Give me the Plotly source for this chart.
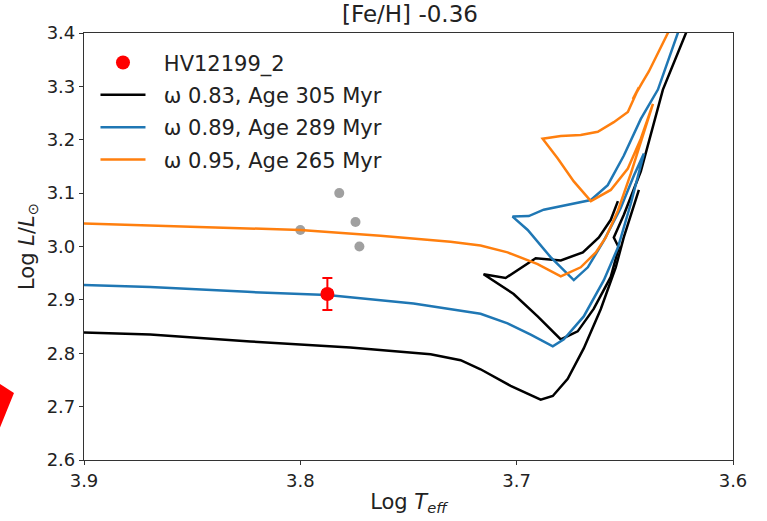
import plotly.graph_objects as go

# ---- data ----
star_name = "HV12199_2"
star_logteff = [3.7875]
star_logl = [2.911]
star_logl_err = [0.03]
star_logteff_err = [0.002]

grey_logteff = [3.800, 3.782, 3.7745, 3.7727]
grey_logl = [3.031, 3.100, 3.046, 3.000]

labels = ["ω 0.83, Age 305 Myr", "ω 0.89, Age 289 Myr", "ω 0.95, Age 265 Myr"]
colors = ["black", "#1f77b4", "#ff7f0e"]

# omega 0.83 (two pieces, None separates)
k_teff = [3.900, 3.8694, 3.8231, 3.7769, 3.7398, 3.7259, 3.7167, 3.7028, 3.6889,
          3.6833, 3.6764, 3.6690, 3.6611, 3.6542, 3.6505, 3.6472, 3.6435,
          None,
          3.6167, 3.6218, 3.6324, 3.6426, 3.6505, 3.6551, 3.6528, 3.6565, 3.6644,
          3.6718, 3.6796, 3.6903, 3.7014, 3.7153, 3.7051, 3.6912, 3.6796, 3.6694,
          3.6620, 3.6565, 3.6532]
k_logl = [2.839, 2.835, 2.822, 2.811, 2.798, 2.787, 2.770, 2.739, 2.713,
          2.720, 2.752, 2.809, 2.883, 2.961, 3.017, 3.059, 3.106,
          None,
          3.450, 3.400, 3.294, 3.141, 3.059, 3.017, 2.998, 2.943, 2.883,
          2.841, 2.826, 2.869, 2.911, 2.948, 2.941, 2.978, 2.974, 2.989,
          3.017, 3.050, 3.085]

# omega 0.89
b_teff = [3.900, 3.8694, 3.8245, 3.7875, 3.7477, 3.7306, 3.7167, 3.7042, 3.6935,
          3.6833, 3.6782, 3.6690, 3.6597, 3.6532, 3.6472, 3.6412,
          3.6458, 3.6519, 3.6597, 3.6671, 3.6736,
          3.6843, 3.6949, 3.7019,
          3.6944, 3.6875, 3.6764, 3.6657, 3.6579, 3.6505, 3.6426, 3.6347, 3.6255, 3.6204]
b_logl = [2.928, 2.924, 2.915, 2.909, 2.893, 2.883, 2.874, 2.856, 2.835,
          2.813, 2.826, 2.869, 2.937, 2.998, 3.081, 3.174,
          3.133, 3.072, 3.011, 2.961, 2.937,
          2.980, 3.031, 3.056,
          3.057, 3.069, 3.078, 3.087, 3.115, 3.170, 3.239, 3.294, 3.400, 3.450]

# omega 0.95
o_teff = [3.900, 3.8463, 3.8000, 3.7630, 3.7306, 3.7167, 3.7042, 3.6903, 3.6796,
          3.6704, 3.6634, 3.6588, 3.6532, 3.6472, 3.6412, 3.6370,
          3.6426, 3.6486, 3.6565, 3.6657,
          3.6736, 3.6810, 3.6880,
          3.6796, 3.6704, 3.6625, 3.6551, 3.6486, 3.6435, 3.6463, 3.6421, 3.6389, 3.6301, 3.6250]
o_logl = [3.043, 3.037, 3.031, 3.020, 3.009, 3.002, 2.989, 2.967, 2.944,
          2.961, 2.989, 3.017, 3.067, 3.137, 3.211, 3.267,
          3.202, 3.146, 3.106, 3.085,
          3.122, 3.165, 3.202,
          3.207, 3.209, 3.215, 3.233, 3.252, 3.298, 3.276, 3.306, 3.328, 3.400, 3.450]

title_text = "[Fe/H] -0.36"
x_ticks = [3.9, 3.8, 3.7, 3.6]
y_ticks = [2.6, 2.7, 2.8, 2.9, 3.0, 3.1, 3.2, 3.3, 3.4]

FONT = "DejaVu Sans"
PAD = "&nbsp;&nbsp;"

fig = go.Figure()

fig.add_trace(go.Scatter(
    x=grey_logteff, y=grey_logl, mode="markers",
    marker=dict(color="#a0a0a0", size=10), showlegend=False, hoverinfo="skip"))

for i, (tx, ty, lab, col) in enumerate(zip([k_teff, b_teff, o_teff], [k_logl, b_logl, o_logl],
                                           labels, colors)):
    fig.add_trace(go.Scatter(
        x=tx, y=ty, mode="lines", name=PAD + lab, legendgroup=f"g{i+1}", legendrank=i + 2,
        line=dict(color=col, width=2.5), connectgaps=False))

fig.add_trace(go.Scatter(
    x=star_logteff, y=star_logl, mode="markers", name=PAD + star_name,
    legendgroup="g0", legendrank=1,
    marker=dict(color="red", size=14),
    error_y=dict(type="data", array=star_logl_err, color="red", thickness=2, width=5),
    error_x=dict(type="data", array=star_logteff_err, color="red", thickness=2, width=5)))

fig.update_layout(
    width=767, height=521,
    margin=dict(l=84, r=34, t=33, b=56),
    paper_bgcolor="white", plot_bgcolor="white",
    font=dict(family=FONT, size=18, color="#222"),
    title=dict(text=title_text, x=0.5345, xanchor="center", y=0.988, yanchor="top",
               font=dict(family=FONT, size=23, color="#222")),
    showlegend=True,
    legend=dict(x=0.0177, y=0.978, xanchor="left", yanchor="top",
                bgcolor="rgba(0,0,0,0)", font=dict(family=FONT, size=21, color="#222"),
                traceorder="grouped", tracegroupgap=2, itemwidth=45),
    shapes=[dict(type="path", xref="paper", yref="paper",
                 path="M -0.1294 0.178 L -0.1079 0.157 L -0.1294 0.076 Z",
                 fillcolor="red", line=dict(width=0))],
)

fig.update_xaxes(
    range=[3.9, 3.6], tickvals=x_ticks, ticktext=[f"{v:.1f}" for v in x_ticks],
    showgrid=False, zeroline=False, showline=True, linecolor="#333", linewidth=1.2,
    mirror=True, ticks="outside", ticklen=4, tickcolor="#333",
    title=dict(text="Log <i>T</i><sub><i>eff</i></sub>", standoff=4,
               font=dict(family=FONT, size=21)),
    tickfont=dict(family=FONT, size=18))
fig.update_yaxes(
    range=[2.6, 3.4], tickvals=y_ticks, ticktext=[f"{v:.1f}" for v in y_ticks],
    showgrid=False, zeroline=False, showline=True, linecolor="#333", linewidth=1.2,
    mirror=True, ticks="outside", ticklen=4, tickcolor="#333",
    title=dict(text="Log <i>L</i>/<i>L</i><sub>⊙</sub>", standoff=6,
               font=dict(family=FONT, size=21)),
    tickfont=dict(family=FONT, size=18))

fig.write_html("out.html")
